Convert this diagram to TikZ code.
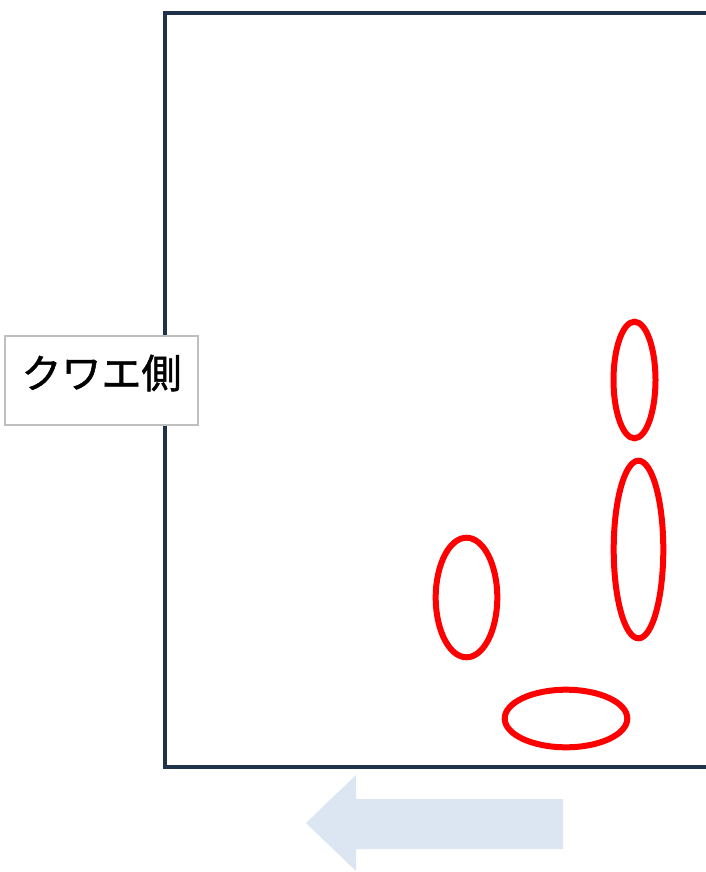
\documentclass[tikz,border=0pt]{standalone}
\usepackage{fontspec}
\newfontfamily\jpfont[FakeBold=1.3]{Noto Sans CJK JP}
\usetikzlibrary{shapes.geometric}
\definecolor{framecol}{HTML}{1F3249}
\definecolor{arrowcol}{HTML}{DCE6F2}
\definecolor{boxgray}{HTML}{BFBFBF}
\tikzset{
  mark ellipse/.style={draw=red, line width=6pt},
  sidelabel/.style={draw=boxgray, line width=1.2pt, fill=white, inner sep=0pt, minimum width=193pt, minimum height=89pt},
  labeltext/.style={inner sep=0pt, font=\jpfont\fontsize{40pt}{44pt}\selectfont, text=black},
  frameline/.style={draw=framecol, line width=4.6pt}
}
\begin{document}
\begin{tikzpicture}[x=1pt,y=-1pt]
\useasboundingbox (0,0) rectangle (705,872);
\fill[white] (0,0) rectangle (705,872);
% frame open on the right
\coordinate (tr) at (707,13);
\coordinate (tl) at (165,13);
\coordinate (bl) at (165,767);
\coordinate (br) at (707,767);
\draw[frameline, line join=miter] (tr) -- (tl) -- (bl) -- (br);
% label
\node[sidelabel] (lbl) at (101.5,380.5) {};
\node[labeltext] (lbltext) at (101.5,373) {クワエ側};
% ellipses
\draw[mark ellipse] (634.5,380) ellipse [x radius=21, y radius=58.3];
\draw[mark ellipse] (638.5,549.5) ellipse [x radius=24.8, y radius=88.8];
\draw[mark ellipse] (466.5,597.5) ellipse [x radius=30.8, y radius=59.8];
\draw[mark ellipse] (566,718.5) ellipse [x radius=61.3, y radius=28.8];
% arrow
\fill[arrowcol] (306,823) -- (356,775) -- (356,799) -- (563,799) -- (563,849) -- (356,849) -- (356,871) -- cycle;
\end{tikzpicture}
\end{document}
